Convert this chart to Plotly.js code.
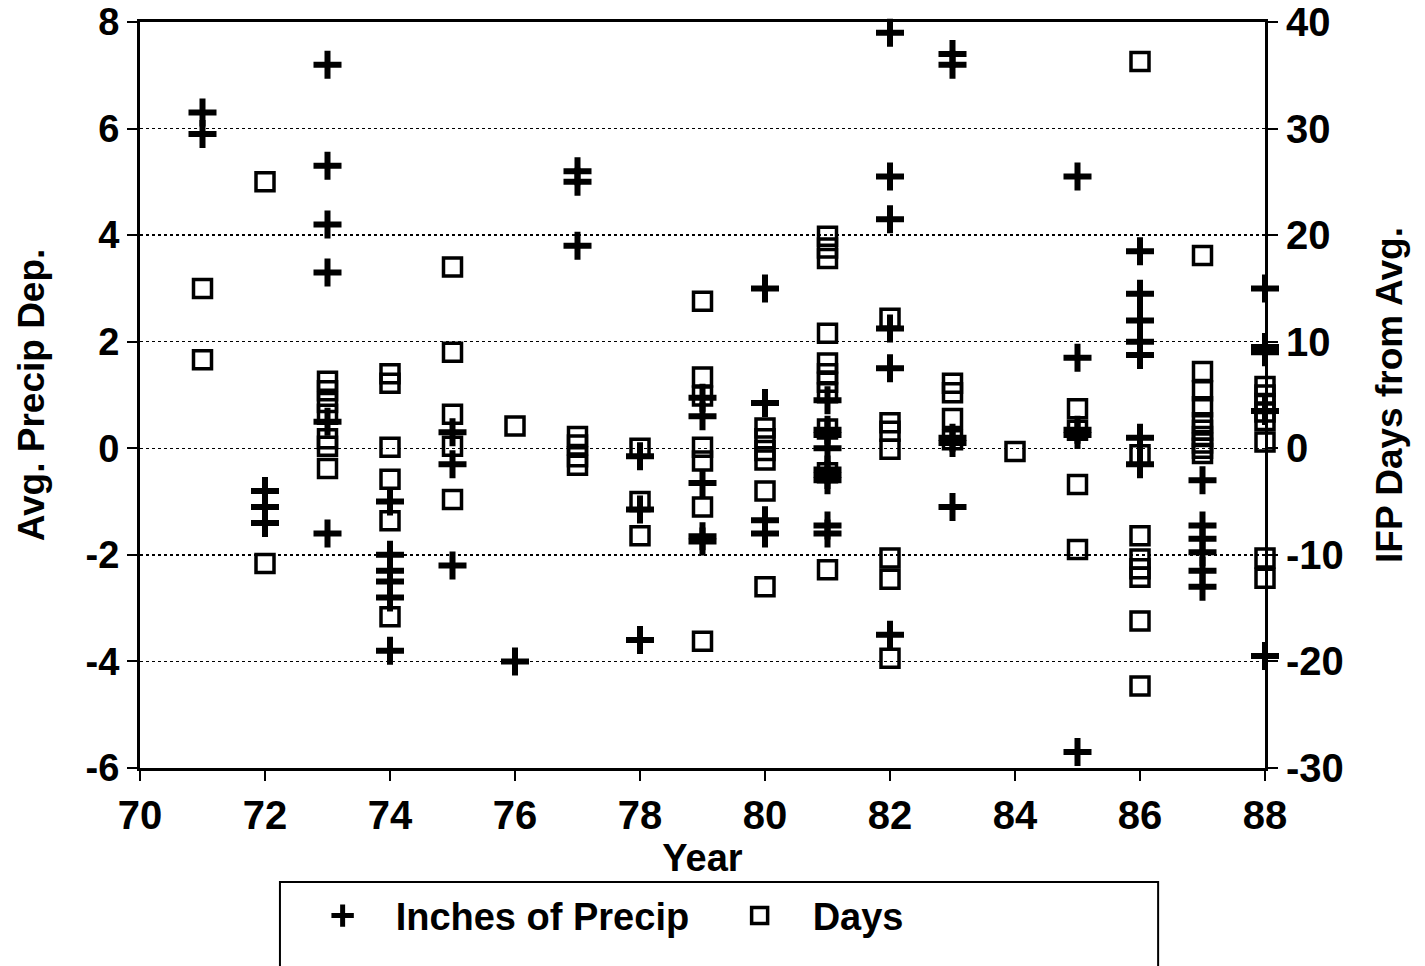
<!DOCTYPE html>
<html>
<head>
<meta charset="utf-8">
<script src="https://cdn.plot.ly/plotly-3.0.1.min.js"></script>
<style>
  html, body { margin: 0; padding: 0; background: #fff; }
  #chart { width: 1425px; height: 966px; }
</style>
</head>
<body>
<div id="chart"></div>
<script>
// Inches of precipitation departure (left axis)
const precipYears = [
  71, 71,
  72, 72, 72,
  73, 73, 73, 73, 73, 73,
  74, 74, 74, 74, 74, 74,
  75, 75, 75,
  76,
  77, 77, 77,
  78, 78, 78,
  79, 79, 79, 79, 79,
  80, 80, 80, 80,
  81, 81, 81, 81, 81, 81, 81, 81, 81,
  82, 82, 82, 82, 82, 82,
  83, 83, 83, 83, 83,
  85, 85, 85, 85, 85,
  86, 86, 86, 86, 86, 86, 86,
  87, 87, 87, 87, 87, 87,
  88, 88, 88, 88, 88
];
const precipValues = [
  6.3, 5.9,
  -0.8, -1.1, -1.4,
  7.2, 5.3, 4.2, 3.3, 0.5, -1.6,
  -1.0, -2.0, -2.3, -2.5, -2.8, -3.8,
  0.3, -0.3, -2.2,
  -4.0,
  5.2, 5.0, 3.8,
  -0.15, -1.15, -3.6,
  0.95, 0.6, -0.65, -1.65, -1.75,
  3.0, 0.85, -1.35, -1.6,
  0.9, 0.35, 0.25, 0.0, -0.4, -0.5, -0.6, -1.45, -1.6,
  7.8, 5.1, 4.3, 2.25, 1.5, -3.5,
  7.4, 7.2, 0.2, 0.1, -1.1,
  5.1, 1.7, 0.35, 0.25, -5.7,
  3.7, 2.9, 2.4, 2.0, 1.75, 0.2, -0.3,
  -0.6, -1.45, -1.7, -1.95, -2.3, -2.6,
  3.0, 1.9, 1.8, 0.7, -3.9
];

// IFP days from average (right axis)
const daysYears = [
  71, 71,
  72, 72,
  73, 73, 73, 73, 73, 73, 73,
  74, 74, 74, 74, 74, 74,
  75, 75, 75, 75, 75,
  76,
  77, 77, 77, 77,
  78, 78, 78,
  79, 79, 79, 79, 79, 79, 79,
  80, 80, 80, 80, 80, 80,
  81, 81, 81, 81, 81, 81, 81, 81, 81, 81, 81,
  82, 82, 82, 82, 82, 82, 82,
  83, 83, 83, 83,
  84,
  85, 85, 85, 85,
  86, 86, 86, 86, 86, 86, 86, 86,
  87, 87, 87, 87, 87, 87, 87, 87, 87, 87,
  88, 88, 88, 88, 88, 88, 88, 88
];
const daysValues = [
  15, 8.3,
  25, -10.8,
  6.3, 5.4, 4.3, 3.2, 0.9, 0.2, -1.9,
  7.0, 6.1, 0.1, -2.9, -6.8, -15.8,
  17, 9, 3.2, 0.2, -4.8,
  2.1,
  1.1, 0.3, -0.8, -1.6,
  0, -5.0, -8.2,
  13.8, 6.7, 4.9, 0.1, -1.2, -5.5, -18.1,
  1.9, 0.9, -0.2, -1.1, -4.0, -13.0,
  19.9, 18.8, 17.8, 10.8, 8.0, 7.0, 6.2, 5.2, 1.8, -2.3, -11.4,
  12.2, 2.4, 1.6, -0.1, -10.3, -12.3, -19.7,
  6.1, 5.2, 2.8, 0.8,
  -0.3,
  3.7, 1.7, -3.4, -9.5,
  36.3, -0.6, -8.2, -10.4, -11.3, -12.1, -16.2, -22.3,
  18.1, 7.2, 5.4, 3.9, 2.4, 1.7, 1.1, 0.5, 0, -0.5,
  5.8, 5.0, 4.2, 3.4, 2.6, 0.6, -10.3, -12.2
];

const seriesNames = ['Inches of Precip', 'Days'];
const xTickVals = [70, 72, 74, 76, 78, 80, 82, 84, 86, 88];
const yTickVals = [-6, -4, -2, 0, 2, 4, 6, 8];
const y2TickVals = [-30, -20, -10, 0, 10, 20, 30, 40];

const boldFont = 'Liberation Sans, Arial, sans-serif';
const narrowFont = 'Liberation Sans Narrow, Liberation Sans, Arial, sans-serif';

const traces = [
  {
    type: 'scatter', mode: 'markers', name: seriesNames[0],
    x: precipYears, y: precipValues, yaxis: 'y', cliponaxis: false,
    marker: { symbol: 'cross-thin-open', size: 20, color: '#000',
              line: { width: 6, color: '#000' } }
  },
  {
    type: 'scatter', mode: 'markers', name: seriesNames[1],
    x: daysYears, y: daysValues, yaxis: 'y2', cliponaxis: false,
    marker: { symbol: 'square-open', size: 18, color: '#000',
              line: { width: 3.5, color: '#000' } }
  }
];

const layout = {
  width: 1425, height: 966,
  paper_bgcolor: '#fff', plot_bgcolor: '#fff',
  margin: { l: 140, r: 160, t: 22, b: 198 },
  showlegend: true,
  legend: {
    orientation: 'h', x: 0.133, y: -0.156, xanchor: 'left', yanchor: 'top',
    bgcolor: 'rgba(0,0,0,0)', borderwidth: 0,
    font: { family: narrowFont, size: 38, color: '#000', weight: 'bold' },
    itemwidth: 96, entrywidth: 306, entrywidthmode: 'pixels'
  },
  xaxis: {
    range: [70, 88], tickvals: xTickVals, ticktext: xTickVals.map(String),
    showgrid: false, zeroline: false,
    showline: true, linecolor: '#000', linewidth: 3, mirror: true,
    ticks: 'outside', ticklen: 10, tickwidth: 2, tickcolor: '#000',
    tickfont: { family: narrowFont, size: 40, color: '#000', weight: 'bold' },
    title: { text: 'Year', standoff: 6,
             font: { family: narrowFont, size: 38, color: '#000', weight: 'bold' } }
  },
  yaxis: {
    range: [-6, 8], tickvals: yTickVals, ticktext: yTickVals.map(String),
    showgrid: true, gridcolor: '#000', gridwidth: 1.5, griddash: 'dot',
    zeroline: false,
    showline: true, linecolor: '#000', linewidth: 3,
    ticks: 'outside', ticklen: 10, tickwidth: 2, tickcolor: '#000',
    tickfont: { family: boldFont, size: 38, color: '#000', weight: 'bold' },
    title: { text: 'Avg. Precip Dep.', standoff: 30,
             font: { family: boldFont, size: 37, color: '#000', weight: 'bold' } }
  },
  yaxis2: {
    range: [-30, 40], tickvals: y2TickVals, ticktext: y2TickVals.map(String),
    overlaying: 'y', side: 'right',
    showgrid: false, zeroline: false,
    showline: true, linecolor: '#000', linewidth: 3,
    ticks: 'outside', ticklen: 10, tickwidth: 2, tickcolor: '#000',
    tickfont: { family: boldFont, size: 40, color: '#000', weight: 'bold' },
    title: { text: 'IFP Days from Avg.', standoff: 34,
             font: { family: boldFont, size: 37, color: '#000', weight: 'bold' } }
  },
  shapes: [
    { type: 'rect', xref: 'paper', yref: 'paper',
      x0: 0.1244, x1: 0.905, y0: -0.1528, y1: -0.28,
      line: { color: '#000', width: 2 }, fillcolor: 'rgba(0,0,0,0)' }
  ]
};

Plotly.newPlot('chart', traces, layout, { displayModeBar: false, staticPlot: true });
</script>
</body>
</html>
